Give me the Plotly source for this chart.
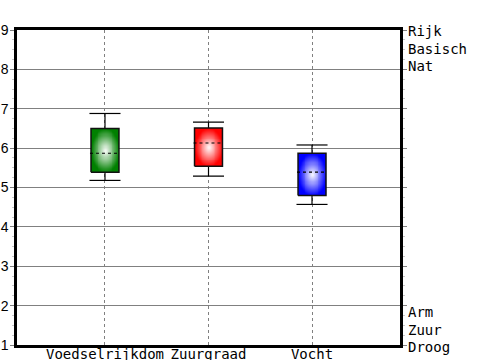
import numpy as np
import plotly.graph_objects as go

categories = ["Voedselrijkdom", "Zuurgraad", "Vocht"]
lows = [5.18, 5.29, 4.57]
q1s = [5.39, 5.54, 4.80]
medians = [5.87, 6.13, 5.39]
q3s = [6.50, 6.51, 5.87]
highs = [6.88, 6.66, 6.08]
colors = ["#008000", "#ff0000", "#0000ff"]
y_ticks = [1, 2, 3, 4, 5, 6, 7, 8, 9]
top_labels = ["Rijk", "Basisch", "Nat"]
bottom_labels = ["Arm", "Zuur", "Droog"]

BOX_W = 0.27
CAP_W = 0.30

fig = go.Figure()

# gradient-filled boxes
for i, (lo, a, m, b, hi, c) in enumerate(zip(lows, q1s, medians, q3s, highs, colors)):
    nx, ny = 30, 40
    xe = np.linspace(i - BOX_W / 2, i + BOX_W / 2, nx + 1)
    ye = np.linspace(a, b, ny + 1)
    xc = (xe[:-1] + xe[1:]) / 2
    yc = (ye[:-1] + ye[1:]) / 2
    X, Y = np.meshgrid(xc, yc)
    dx = (X - i) / (BOX_W / 2)
    dy = (Y - (a + b) / 2) / ((b - a) / 2)
    r = np.clip(np.sqrt(dx ** 2 + dy ** 2), 0, 1)
    fig.add_trace(go.Heatmap(
        x=xe, y=ye, z=r, zmin=0, zmax=1,
        colorscale=[[0, "#ffffff"], [1, c]],
        showscale=False, hoverinfo="skip", zsmooth="best",
    ))

# outlines, whiskers, caps
bx, by = [], []
wx, wy = [], []
mx, my = [], []
for i, (lo, a, m, b, hi) in enumerate(zip(lows, q1s, medians, q3s, highs)):
    l, r_ = i - BOX_W / 2, i + BOX_W / 2
    bx += [l, r_, r_, l, l, None]
    by += [a, a, b, b, a, None]
    wx += [i, i, None, i, i, None,
           i - CAP_W / 2, i + CAP_W / 2, None, i - CAP_W / 2, i + CAP_W / 2, None]
    wy += [b, hi, None, a, lo, None, hi, hi, None, lo, lo, None]
    mx += [l - 0.01, r_, None]
    my += [m, m, None]

fig.add_trace(go.Scatter(x=wx, y=wy, mode="lines", line=dict(color="black", width=1.2),
                         hoverinfo="skip", showlegend=False))
fig.add_trace(go.Scatter(x=bx, y=by, mode="lines", line=dict(color="#111111", width=1.5),
                         hoverinfo="skip", showlegend=False))
fig.add_trace(go.Scatter(x=mx, y=my, mode="lines", line=dict(color="black", width=1.2, dash="3px,3px"),
                         hoverinfo="skip", showlegend=False))

annotations = []
for k, t in enumerate(top_labels):
    annotations.append(dict(x=1, xref="paper", xanchor="left", xshift=6,
                            y=9, yref="y", yanchor="middle", yshift=-17.5 * k - 1,
                            text=t, showarrow=False,
                            font=dict(family="DejaVu Sans Mono", size=14, color="black")))
for k, t in enumerate(bottom_labels):
    annotations.append(dict(x=1, xref="paper", xanchor="left", xshift=6,
                            y=1, yref="y", yanchor="middle", yshift=17.5 * (2 - k) - 2,
                            text=t, showarrow=False,
                            font=dict(family="DejaVu Sans Mono", size=14, color="black")))

fig.update_layout(
    width=500, height=360,
    margin=dict(l=17, r=100, t=30, b=15),
    paper_bgcolor="white", plot_bgcolor="white",
    showlegend=False,
    annotations=annotations,
    xaxis=dict(
        range=[-0.85, 2.85], tickvals=list(range(len(categories))), ticktext=categories,
        showgrid=True, gridcolor="#808080", gridwidth=1, griddash="3px,3px",
        showline=True, linecolor="black", linewidth=2.5, mirror=True,
        ticks="", zeroline=False, automargin=False, ticklabelstandoff=-6,
        tickfont=dict(family="DejaVu Sans Mono", size=14, color="black"),
        fixedrange=True,
    ),
    yaxis=dict(
        range=[1, 9], tickvals=y_ticks,
        showgrid=True, gridcolor="#808080", gridwidth=1,
        showline=True, linecolor="black", linewidth=2.5, mirror="ticks",
        ticks="outside", ticklen=4, tickcolor="#808080", automargin=False,
        ticklabelstandoff=-1,
        minor=dict(dtick=0.25, ticks="outside", ticklen=2, tickcolor="#c8c8c8", showgrid=False),
        zeroline=False,
        tickfont=dict(family="Liberation Sans", size=14, color="black"),
        fixedrange=True,
    ),
)

fig.write_html("out.html", config={"displayModeBar": False},
               post_script="document.body.style.margin='0';document.body.style.overflow='hidden';")
